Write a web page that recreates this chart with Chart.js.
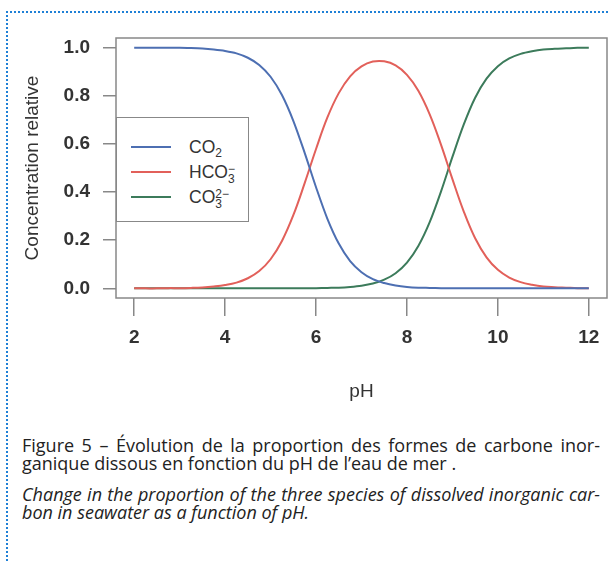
<!DOCTYPE html>
<html>
<head>
<meta charset="utf-8">
<script src="https://cdn.jsdelivr.net/npm/chart.js@4.4.1/dist/chart.umd.min.js"></script>
<style>
  html, body { margin: 0; padding: 0; background: #fff; }
  body { width: 610px; height: 563px; position: relative; overflow: hidden; font-family: "Liberation Sans", Arial, sans-serif; }
  #frame { position: absolute; left: 6px; top: 11px; width: 640px; height: 600px;
           border-top: 2px dotted #1f80d6; border-left: 2px dotted #1f80d6; }
  #wrap { position: absolute; left: 0; top: 0; width: 610px; height: 403px; }
  #legend { position: absolute; left: 116px; top: 117px; width: 131px; height: 103px;
            border: 1.5px solid #888; background: #fff; color: #333; font-size: 17.5px; }
  .row { position: absolute; left: 0; width: 131px; height: 24px; }
  .swatch { position: absolute; left: 14px; top: 11px; width: 40px; height: 2px; }
  .lab { position: absolute; left: 72px; top: 2px; line-height: 20px; white-space: nowrap; }
  .lab sub { font-size: 12px; vertical-align: -4px; line-height: 0; }
  .stack { display: inline-block; vertical-align: -5px; font-size: 12px; line-height: 10px; }
  .stack span { display: block; }
  #caption { position: absolute; left: 22px; top: 436px; width: 578px; color: #222;
             font-family: "Open Sans", "Noto Sans", sans-serif; line-height: 18px; }
  .fr { font-size: 18px; }
  .en { font-size: 18px; font-style: italic; margin-top: 13px; }
  .just { text-align: justify; text-align-last: justify; white-space: nowrap; }
</style>
</head>
<body>
<div id="frame"></div>
<div id="wrap"><canvas id="chart" width="610" height="403"></canvas></div>
<div id="legend"></div>
<div id="caption">
  <div class="fr">
    <div class="just">Figure 5 – Évolution de la proportion des formes de carbone inor-</div>
    <div>ganique dissous en fonction du pH de l’eau de mer .</div>
  </div>
  <div class="en">
    <div class="just">Change in the proportion of the three species of dissolved inorganic car-</div>
    <div>bon in seawater as a function of pH.</div>
  </div>
</div>
<script>
// values, every 0.25 pH unit
const pH = [2, 2.25, 2.5, 2.75, 3, 3.25, 3.5, 3.75, 4, 4.25, 4.5, 4.75, 5, 5.25, 5.5, 5.75,
            6, 6.25, 6.5, 6.75, 7, 7.25, 7.5, 7.75, 8, 8.25, 8.5, 8.75, 9, 9.25, 9.5, 9.75,
            10, 10.25, 10.5, 10.75, 11, 11.25, 11.5, 11.75, 12];
const co2 = [1.000, 1.000, 1.000, 0.999, 0.999, 0.998, 0.996, 0.992, 0.986, 0.976, 0.958, 0.928,
             0.879, 0.803, 0.696, 0.563, 0.420, 0.289, 0.186, 0.113, 0.067, 0.038, 0.022, 0.012,
             0.006, 0.003, 0.002, 0.001, 0, 0, 0, 0, 0, 0, 0, 0, 0, 0, 0, 0, 0];
const hco3 = [0, 0, 0, 0.001, 0.001, 0.002, 0.004, 0.008, 0.014, 0.024, 0.042, 0.072,
              0.121, 0.197, 0.304, 0.437, 0.579, 0.710, 0.811, 0.881, 0.922, 0.942, 0.943, 0.926,
              0.887, 0.821, 0.723, 0.596, 0.454, 0.319, 0.208, 0.129, 0.077, 0.045, 0.026, 0.015,
              0.008, 0.005, 0.003, 0.001, 0.001];
const co3 = [0, 0, 0, 0, 0, 0, 0, 0, 0, 0, 0, 0, 0, 0, 0, 0,
             0.001, 0.002, 0.003, 0.006, 0.011, 0.020, 0.036, 0.063, 0.107, 0.176, 0.275, 0.403,
             0.546, 0.681, 0.792, 0.871, 0.923, 0.955, 0.974, 0.985, 0.992, 0.995, 0.997, 0.999, 0.999];

const xTicks = [2, 4, 6, 8, 10, 12];
const yTicks = [0, 0.2, 0.4, 0.6, 0.8, 1.0];
const seriesNames = ['CO2', 'HCO3-', 'CO3 2-'];
const seriesLegend = ['CO<sub>2</sub>',
                      'HCO<span class="stack"><span>−</span><span>3</span></span>',
                      'CO<span class="stack"><span>2−</span><span>3</span></span>'];
const seriesValues = [co2, hco3, co3];
const seriesColors = ['#4d6fb2', '#e2605a', '#3c7b5b'];

const FONT = 'Liberation Sans, Arial, sans-serif';
const AXIS = '#888';

// legend as html so the sub/superscripts work
const leg = document.getElementById('legend');
seriesNames.forEach((n, i) => {
  const row = document.createElement('div');
  row.className = 'row';
  row.style.top = (17 + i * 25) + 'px';
  row.innerHTML = '<div class="swatch" style="background:' + seriesColors[i] + '"></div>' +
                  '<div class="lab">' + seriesLegend[i] + '</div>';
  leg.appendChild(row);
});

const boxPlugin = {
  id: 'box',
  afterDraw(chart) {
    const {ctx, chartArea: a} = chart;
    ctx.save();
    ctx.strokeStyle = AXIS;
    ctx.lineWidth = 1.5;
    ctx.strokeRect(a.left, a.top, a.right - a.left, a.bottom - a.top);
    ctx.restore();
  }
};

new Chart(document.getElementById('chart'), {
  type: 'line',
  data: {
    datasets: seriesNames.map((n, i) => ({
      label: n,
      data: pH.map((x, j) => ({x: x, y: seriesValues[i][j]})),
      borderColor: seriesColors[i],
      borderWidth: 2,
      pointRadius: 0,
      // the bell curve reads rounder with plain tension, the s-curves stay flat with monotone
      tension: 0.4,
      cubicInterpolationMode: i === 1 ? 'default' : 'monotone',
      fill: false
    }))
  },
  options: {
    responsive: false,
    animation: false,
    devicePixelRatio: 1,
    layout: { padding: { left: 0, top: 38, right: 3, bottom: 0 } },
    plugins: { legend: { display: false }, tooltip: { enabled: false } },
    scales: {
      x: {
        type: 'linear',
        min: 1.6,
        max: 12.4,
        afterBuildTicks: s => { s.ticks = xTicks.map(v => ({value: v})); },
        afterFit: s => { s.height = 105; },
        grid: { drawOnChartArea: false, drawTicks: true, tickLength: 18, color: AXIS, lineWidth: 1.5 },
        border: { display: false },
        ticks: { autoSkip: false, maxRotation: 0, padding: 10, color: '#333',
                 font: { family: FONT, size: 19, weight: 'bold' }, callback: v => String(v) },
        title: { display: true, text: 'pH', color: '#333', padding: { top: 0, bottom: 0 },
                 font: { family: FONT, size: 19 } }
      },
      y: {
        min: -0.04,
        max: 1.04,
        afterBuildTicks: s => { s.ticks = yTicks.map(v => ({value: v})); },
        afterFit: s => { s.width = 116; },
        grid: { drawOnChartArea: false, drawTicks: true, tickLength: 13, color: AXIS, lineWidth: 1.5 },
        border: { display: false },
        ticks: { autoSkip: false, padding: 13, color: '#333',
                 font: { family: FONT, size: 19, weight: 'bold' }, callback: v => v.toFixed(1) },
        title: { display: true, text: 'Concentration relative', color: '#333', padding: { top: 21, bottom: 0 },
                 font: { family: FONT, size: 19 } }
      }
    }
  },
  plugins: [boxPlugin]
});
</script>
</body>
</html>
